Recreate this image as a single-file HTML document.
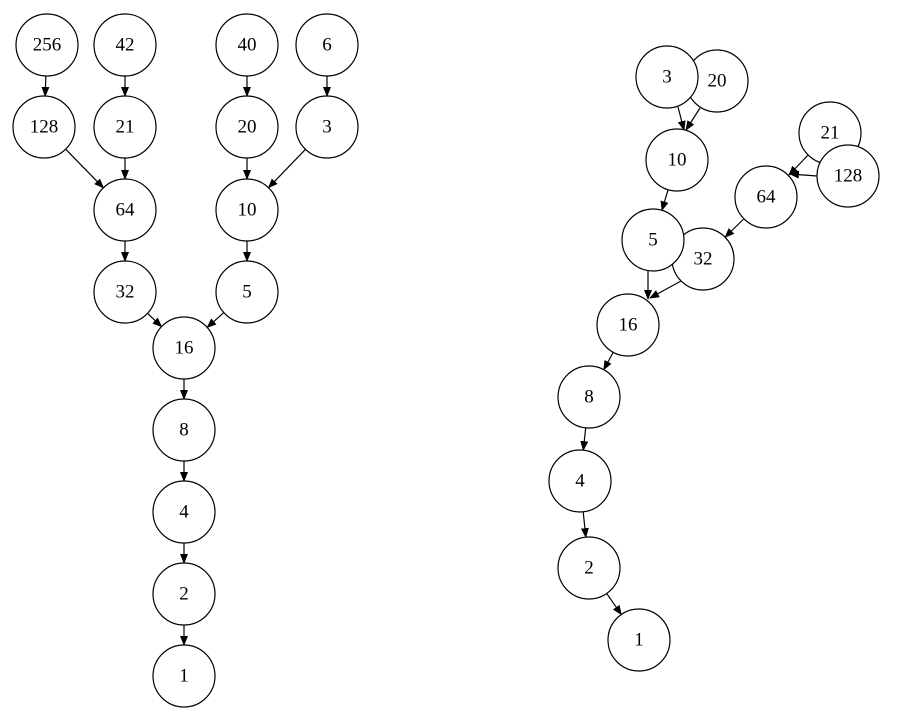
<!DOCTYPE html>
<html><head><meta charset="utf-8"><style>
html,body{margin:0;padding:0;background:#fff}
svg{display:block}
circle{fill:#fff;stroke:#000;stroke-width:1.2}
text{font-family:"Liberation Serif",serif;font-size:19px;text-anchor:middle;dominant-baseline:central;fill:#000}
</style></head><body>
<svg id="s" width="904" height="724" viewBox="0 0 904 724" xmlns="http://www.w3.org/2000/svg">
<defs><marker id="a" markerWidth="10" markerHeight="8" refX="9" refY="4" orient="auto" markerUnits="userSpaceOnUse"><path d="M0,0 L10,4 L0,8 z" fill="#000"/></marker></defs>
<g id="edges"></g>
<g>
<circle cx="47" cy="45" r="31"/><text x="47" y="45">256</text>
<circle cx="125" cy="45" r="31"/><text x="125" y="45">42</text>
<circle cx="247" cy="45" r="31"/><text x="247" y="45">40</text>
<circle cx="327" cy="45" r="31"/><text x="327" y="45">6</text>
<circle cx="44" cy="127" r="31"/><text x="44" y="127">128</text>
<circle cx="125" cy="127" r="31"/><text x="125" y="127">21</text>
<circle cx="247" cy="127" r="31"/><text x="247" y="127">20</text>
<circle cx="327" cy="127" r="31"/><text x="327" y="127">3</text>
<circle cx="125" cy="210" r="31"/><text x="125" y="210">64</text>
<circle cx="247" cy="210" r="31"/><text x="247" y="210">10</text>
<circle cx="125" cy="292" r="31"/><text x="125" y="292">32</text>
<circle cx="247" cy="292" r="31"/><text x="247" y="292">5</text>
<circle cx="184" cy="348" r="31"/><text x="184" y="348">16</text>
<circle cx="184" cy="430" r="31"/><text x="184" y="430">8</text>
<circle cx="184" cy="512" r="31"/><text x="184" y="512">4</text>
<circle cx="184" cy="594" r="31"/><text x="184" y="594">2</text>
<circle cx="184" cy="676" r="31"/><text x="184" y="676">1</text>

<circle cx="717" cy="81" r="31"/><text x="717" y="81">20</text>
<circle cx="667" cy="77" r="31"/><text x="667" y="77">3</text>
<circle cx="677" cy="160" r="31"/><text x="677" y="160">10</text>
<circle cx="830" cy="133" r="31"/><text x="830" y="133">21</text>
<circle cx="848" cy="176" r="31"/><text x="848" y="176">128</text>
<circle cx="766" cy="197" r="31"/><text x="766" y="197">64</text>
<circle cx="703" cy="259" r="31"/><text x="703" y="259">32</text>
<circle cx="653" cy="240" r="31"/><text x="653" y="240">5</text>
<circle cx="628" cy="325" r="31"/><text x="628" y="325">16</text>
<circle cx="589" cy="397" r="31"/><text x="589" y="397">8</text>
<circle cx="580" cy="481" r="31"/><text x="580" y="481">4</text>
<circle cx="589" cy="568" r="31"/><text x="589" y="568">2</text>
<circle cx="639" cy="640" r="31"/><text x="639" y="640">1</text>
</g>
</svg>
<script>
var E=[
[47,45,44,127],[125,45,125,127],[247,45,247,127],[327,45,327,127],
[44,127,125,210],[125,127,125,210],[247,127,247,210],[327,127,247,210],
[125,210,125,292],[247,210,247,292],[125,292,184,348],[247,292,184,348],
[184,348,184,430],[184,430,184,512],[184,512,184,594],[184,594,184,676],
[677,160,653,240],
[766,197,703,259],[628,325,589,397],
[589,397,580,481],[580,481,589,568],[589,568,639,640]];
var D=[[678,107,684,130],[700,108,686,130],[810,153,789,175],[817,176,790,174],[648,271,648,299],[681,281,650,298]];
var g=document.getElementById('edges'),r=31,ns='http://www.w3.org/2000/svg';
function ln(a,b,c,d){var l=document.createElementNS(ns,'line');
l.setAttribute('x1',a);l.setAttribute('y1',b);l.setAttribute('x2',c);l.setAttribute('y2',d);
l.setAttribute('stroke','#000');l.setAttribute('stroke-width','1.2');l.setAttribute('marker-end','url(#a)');g.appendChild(l);}
E.forEach(function(e){var dx=e[2]-e[0],dy=e[3]-e[1],d=Math.hypot(dx,dy),ux=dx/d,uy=dy/d;
ln(e[0]+ux*r,e[1]+uy*r,e[2]-ux*r,e[3]-uy*r);});
D.forEach(function(e){ln(e[0],e[1],e[2],e[3]);});
</script>
</body></html>
